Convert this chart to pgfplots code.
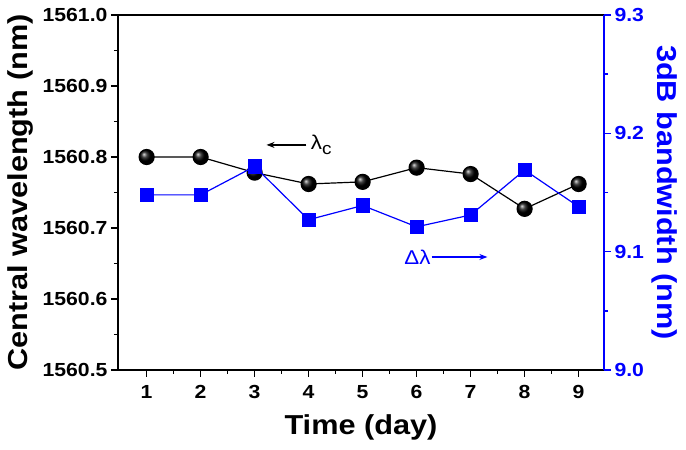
\documentclass[border=0pt]{standalone}
\usepackage{fontspec}
\setmainfont{Liberation Sans}[FakeStretch=1.12]
\usepackage{pgfplots}
\pgfplotsset{compat=1.18}
\usetikzlibrary{calc,arrows.meta}
\definecolor{pblue}{RGB}{0,0,255}

\pgfplotsset{
  twin/.style={
    scale only axis, width=486bp, height=355bp,
    xmin=0.47, xmax=9.47,
    tick align=outside,
    major tick length=7bp, minor tick length=4bp,
    ticklabel style={font=\fontsize{19}{24}\selectfont\bfseries},
    /pgf/number format/assume math mode=true,
    yticklabel style={/pgf/number format/fixed, /pgf/number format/fixed zerofill,
      /pgf/number format/precision=1, /pgf/number format/1000 sep={}},
  },
}
\newcommand\labfont{\fontsize{27.5}{30}\selectfont\bfseries}

\begin{document}
\begin{tikzpicture}
\begin{axis}[
  twin,
  ymin=1560.5, ymax=1561.0,
  xtick={1,2,3,4,5,6,7,8,9}, minor x tick num=1,
  ytick={1560.5,1560.6,1560.7,1560.8,1560.9,1561.0}, minor y tick num=1,
  xtick pos=bottom, ytick pos=left,
  xticklabel style={yshift=-5bp},
  axis line style={line width=2bp},
  tick style={line width=1.5bp, black},
  xlabel={Time (day)}, ylabel={Central wavelength (nm)},
  every axis x label/.style={at={(axis description cs:0.5,-0.1606)}, anchor=center, font=\labfont},
  every axis y label/.style={at={(axis description cs:-0.2016,0.5)}, rotate=90, anchor=center, font=\labfont},
]
\coordinate (sw) at (rel axis cs:0,0);
\coordinate (ne) at (rel axis cs:1,1);
\addplot[black, line width=1.2bp, mark=ball, mark size=7.5bp, mark options={ball color=black}]
  coordinates {(1,1560.800)(2,1560.800)(3,1560.778)(4,1560.762)(5,1560.765)
               (6,1560.785)(7,1560.776)(8,1560.727)(9,1560.762)};
\draw[-{Stealth[length=8bp,width=6bp]}, line width=1.2bp]
  (axis cs:3.96,1560.817) -- (axis cs:3.22,1560.817);
\node[anchor=west, inner sep=0pt, font=\fontsize{20}{24}\selectfont]
  at (axis cs:4.04,1560.817) {λ\raisebox{-0.4ex}{\fontsize{17}{20}\selectfont c}};
\end{axis}

\begin{axis}[
  twin,
  ymin=9.0, ymax=9.3,
  axis x line=none, axis y line*=right,
  ytick={9.0,9.1,9.2,9.3}, minor y tick num=1,
  y axis line style={pblue, line width=2bp},
  ytick style={pblue, line width=1.5bp},
  yticklabel style={text=pblue},
  ylabel={3dB bandwidth (nm)},
  every axis y label/.style={at={(axis description cs:1.1255,0.5)}, rotate=-90, anchor=center, text=pblue, font=\labfont},
]
\addplot[pblue, line width=1.2bp, mark=square*, mark size=6.5bp, mark options={fill=pblue, draw=pblue}]
  coordinates {(1,9.148)(2,9.148)(3,9.172)(4,9.127)(5,9.139)
               (6,9.121)(7,9.131)(8,9.169)(9,9.138)};
\node[anchor=east, inner sep=0pt, text=pblue, font=\fontsize{20}{24}\selectfont]
  at (axis cs:6.26,9.0955) {Δλ};
\draw[pblue, -{Stealth[length=8bp,width=6bp]}, line width=1.2bp]
  (axis cs:6.28,9.0955) -- (axis cs:7.31,9.0955);
\end{axis}

\pgfresetboundingbox
\path ($(sw)+(-118bp,-80bp)$) rectangle ($(ne)+(82bp,15bp)$);
\end{tikzpicture}
\end{document}
